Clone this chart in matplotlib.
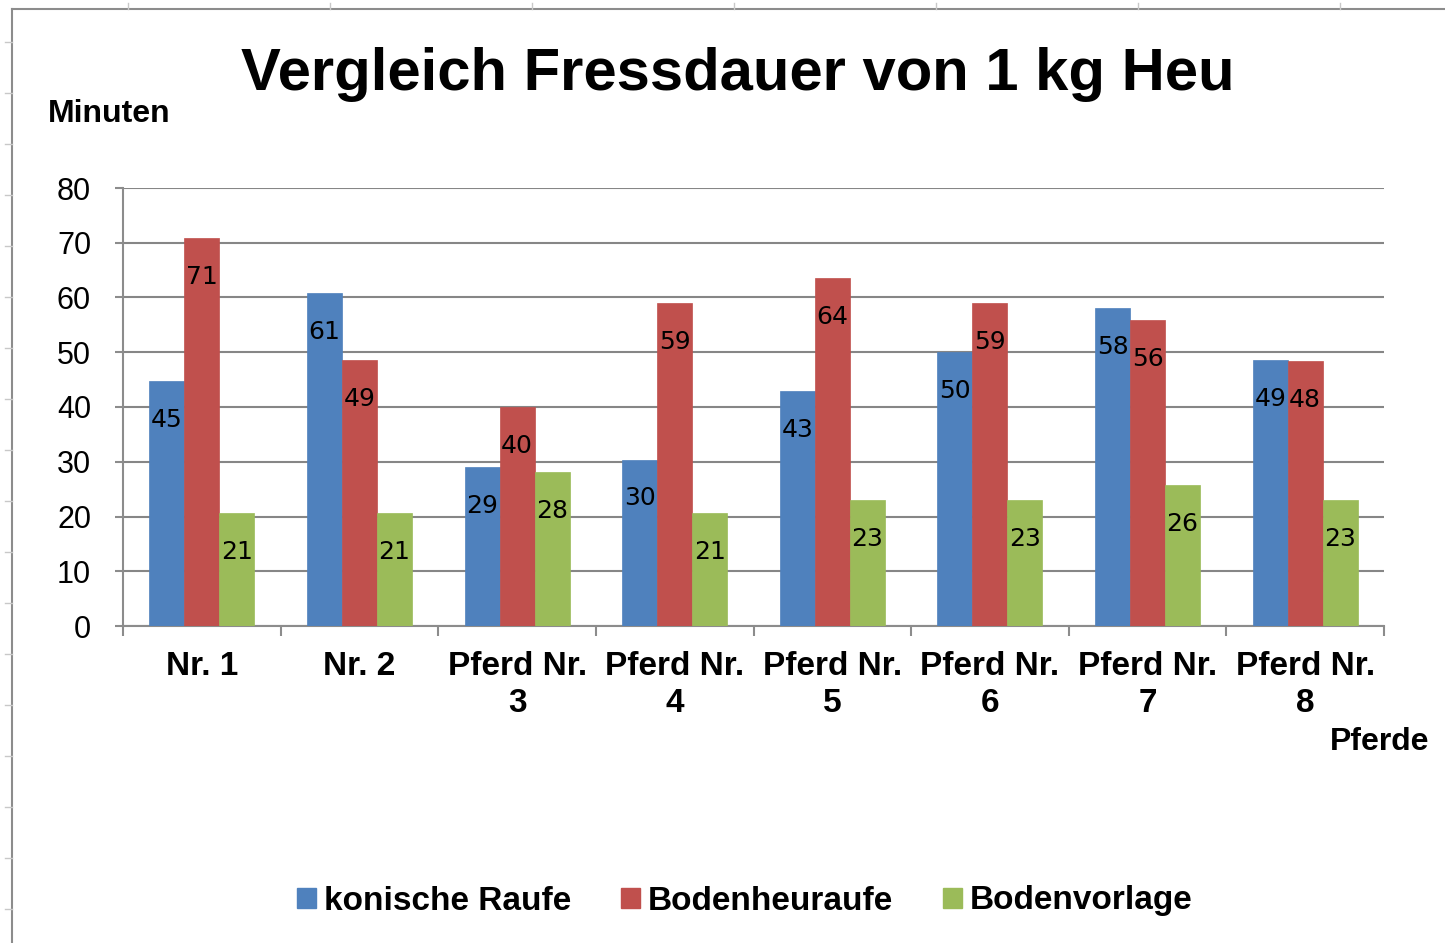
import matplotlib.pyplot as plt
import numpy as np
from matplotlib.patches import Patch
from matplotlib.lines import Line2D

# data (minutes per 1 kg hay)
pferde = ["Nr. 1", "Nr. 2", "Pferd Nr.\n3", "Pferd Nr.\n4", "Pferd Nr.\n5",
          "Pferd Nr.\n6", "Pferd Nr.\n7", "Pferd Nr.\n8"]
konische_raufe = [44.7, 60.8, 29.0, 30.4, 42.9, 50.0, 58.1, 48.6]
bodenheuraufe = [70.9, 48.6, 40.0, 59.0, 63.6, 59.0, 55.9, 48.4]
bodenvorlage = [20.6, 20.6, 28.1, 20.6, 23.0, 23.0, 25.8, 23.0]
serien = ["konische Raufe", "Bodenheuraufe", "Bodenvorlage"]
farben = ["#4F81BD", "#C0504D", "#9BBB59"]
y_ticks = [0, 10, 20, 30, 40, 50, 60, 70, 80]

W, H = 1445, 943
fig = plt.figure(figsize=(W / 100, H / 100), dpi=100)
plt.rcParams["font.family"] = ["Liberation Sans", "DejaVu Sans"]

# chart area border (Excel style), cropped on right/bottom
grau = "#8c8c8c"
fig.add_artist(Line2D([12 / W, 12 / W], [0, 1 - 9 / H], transform=fig.transFigure,
                      color=grau, lw=1.5))
fig.add_artist(Line2D([12 / W, 1], [1 - 9 / H, 1 - 9 / H], transform=fig.transFigure,
                      color=grau, lw=1.5))
# little sheet grid marks outside the chart area
for yy in np.arange(42, H, 51):
    fig.add_artist(Line2D([5 / W, 12 / W], [1 - yy / H] * 2, transform=fig.transFigure,
                          color="#c8c8c8", lw=1))
for xx in np.arange(128, W, 202):
    fig.add_artist(Line2D([xx / W] * 2, [1 - 9 / H, 1 - 3 / H], transform=fig.transFigure,
                          color="#c8c8c8", lw=1))

ax = fig.add_axes([123 / W, 1 - 626 / H, (1384 - 123) / W, (626 - 188) / H])

x = np.arange(len(pferde))
bw = 0.222
for i, (werte, farbe) in enumerate(zip([konische_raufe, bodenheuraufe, bodenvorlage], farben)):
    pos = x + (i - 1) * bw
    ax.bar(pos, werte, width=bw, color=farbe, edgecolor=farbe, linewidth=0.5, zorder=3)
    for px, v in zip(pos, werte):
        ax.annotate(f"{int(v + 0.5)}", (px, v), xytext=(0, -28), textcoords="offset points",
                    ha="center", va="center", fontsize=18, family="DejaVu Sans",
                    color="black", zorder=4)

ax.set_xlim(-0.5, len(pferde) - 0.5)
ax.set_ylim(0, 80)
ax.set_yticks(y_ticks)
ax.set_yticklabels([str(t) for t in y_ticks], fontsize=22)
ax.yaxis.grid(True, color="#868686", lw=1.5, zorder=0)
ax.set_axisbelow(True)

ax.set_xticks(x)
ax.set_xticklabels(pferde, fontsize=24, fontweight="bold", linespacing=1.25)
ax.set_xticks(np.arange(-0.5, len(pferde)), minor=True)
ax.tick_params(axis="x", which="major", length=0, pad=18)
ax.tick_params(axis="x", which="minor", length=7, width=1.5, color=grau, direction="out")
ax.tick_params(axis="y", length=6, width=1.5, color=grau, pad=17)

for s in ["top", "right"]:
    ax.spines[s].set_visible(False)
for s in ["left", "bottom"]:
    ax.spines[s].set_color(grau)
    ax.spines[s].set_linewidth(1.5)

fig.text(738 / W, 1 - 75 / H, "Vergleich Fressdauer von 1 kg Heu", ha="center", va="center",
         fontsize=43, fontweight="bold")
fig.text(48 / W, 1 - 114 / H, "Minuten", ha="left", va="center", fontsize=23, fontweight="bold")
fig.text(1429 / W, 1 - 742 / H, "Pferde", ha="right", va="center", fontsize=23, fontweight="bold")

handles = [Patch(facecolor=f, edgecolor=f) for f in farben]
fig.legend(handles, serien, loc="center", bbox_to_anchor=(745 / W, 1 - 901 / H), ncol=3,
           frameon=False, prop={"size": 24, "weight": "bold"}, handlelength=0.55,
           handleheight=0.55, handletextpad=0.25, columnspacing=1.5)

fig.savefig("out.png", dpi=100)
